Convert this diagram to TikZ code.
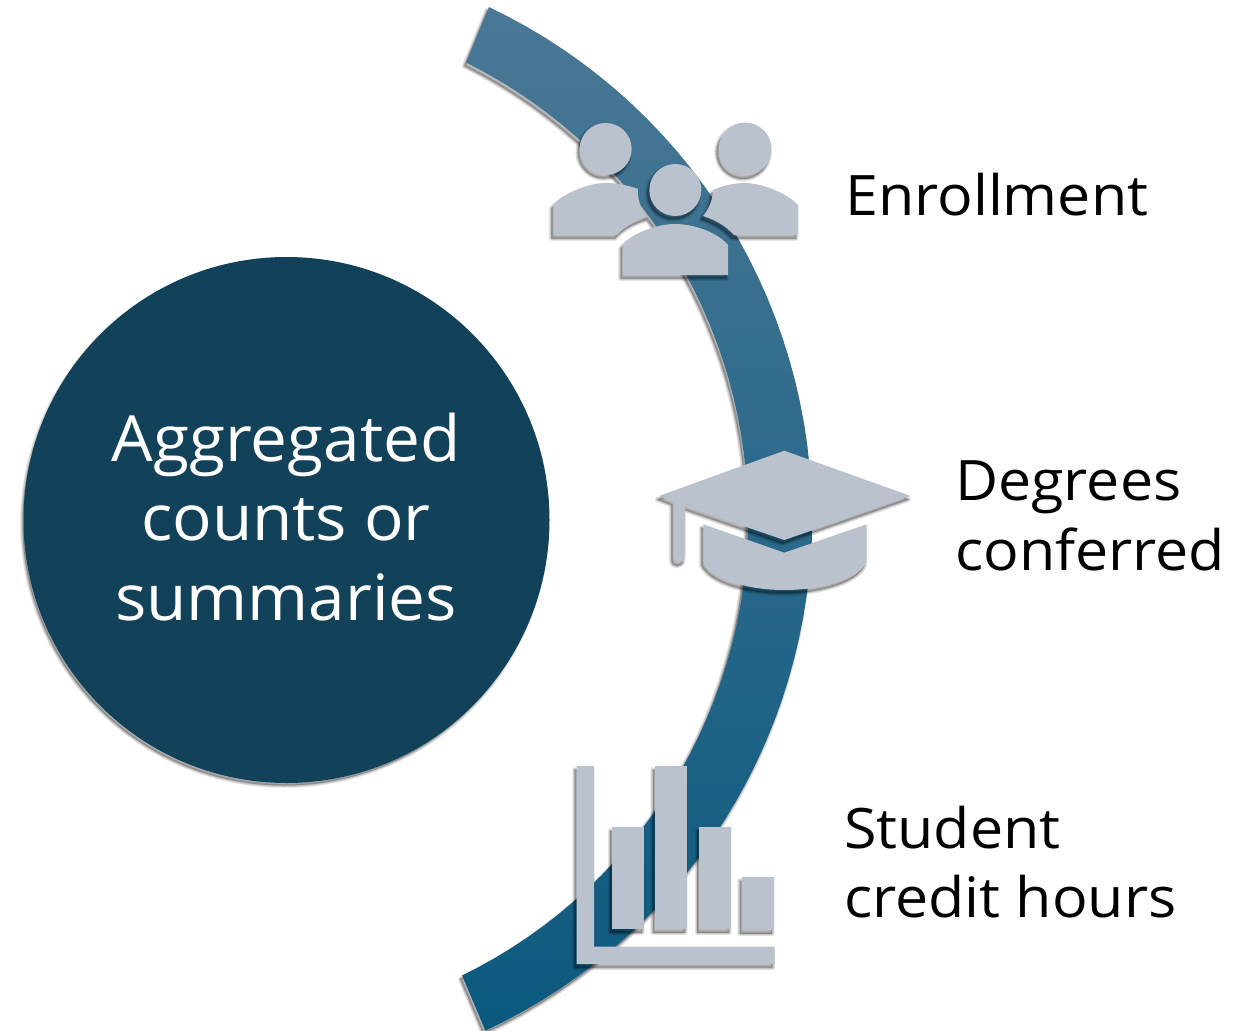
\documentclass[tikz,border=0pt]{standalone}
\usepackage{fontspec}
\setmainfont{Open Sans}
\newfontfamily\bigface[FakeStretch=1.03]{Open Sans}
\newfontfamily\sideface[FakeStretch=1.06]{Open Sans}
\definecolor{iconc}{HTML}{BAC3CD}
\definecolor{discc}{HTML}{12425A}
\definecolor{arctop}{HTML}{4A7896}
\definecolor{arcmid}{HTML}{186288}
\definecolor{arcbot}{HTML}{0B597E}
\newcommand{\softshadow}[1]{%
  \foreach \w in {5,4,3,2,1}{%
    \fill[black,opacity=0.06,xshift=-2bp,yshift=-3.5bp,draw=black,line width=\w bp,line join=round] #1;}%
}
\tikzset{
  icon/.style={fill=iconc,draw=none},
  biglabel/.style={text=white,align=center,font=\bigface\fontsize{64}{79.5}\selectfont,inner sep=0pt},
  sidelabel/.style={text=black,align=left,anchor=west,font=\sideface\fontsize{56}{70}\selectfont,inner sep=0pt}
}
\begin{document}
\begin{tikzpicture}[x=1bp,y=-1bp]
\useasboundingbox (0,0) rectangle (1242,1031);
\fill[white] (0,0) rectangle (1242,1031);
% arc
\def\arcpath{(489,7) -- plot[domain=-64.65:65,samples=60] ({246.3+565.7*cos(\x)},{518+565.7*sin(\x)}) -- plot[domain=64:-63.5,samples=60] ({239+509*cos(\x)},{518+509*sin(\x)}) -- cycle}
\softshadow{\arcpath}
\shade[top color=arctop,middle color=arcmid,bottom color=arcbot] \arcpath;
% disc
\softshadow{(286.5,520) circle[radius=262]}
\fill[discc] (286.5,520) circle[radius=263];
% people
\def\pa{(553.3,235) -- (553.3,205) .. controls (565,192) and (590,183) .. (605.7,183) .. controls (618,183) and (630,186) .. (638,189) .. controls (637,199) and (641,209) .. (647,217) .. controls (634,221) and (624,227) .. (617,235) -- cycle}
\def\pb{(798,235) -- (798,205) .. controls (786,192) and (760,183) .. (745,183) .. controls (733,183) and (722,186) .. (713,190) .. controls (713,200) and (708,210) .. (703,216) .. controls (716,220) and (727,227) .. (734,235) -- cycle}
\def\pc{(622.7,275) -- (622.7,245) .. controls (634,232) and (658,224) .. (675.3,224) .. controls (693,224) and (717,232) .. (728,245) -- (728,275) -- cycle}
\softshadow{(605.7,149) circle[radius=26]}\fill[icon] (605.7,149) circle[radius=26];
\softshadow{(745,149) circle[radius=26.5]}\fill[icon] (745,149) circle[radius=26.5];
\softshadow{\pa}\fill[icon] \pa;
\softshadow{\pb}\fill[icon] \pb;
\softshadow{(675.3,190) circle[radius=26]}\fill[icon] (675.3,190) circle[radius=26];
\softshadow{\pc}\fill[icon] \pc;
% cap
\def\ca{(784.3,450.7) -- (910.7,496) -- (784.3,540) -- (685,506) -- (685,556.7) .. controls (685,564.5) and (673.3,564.5) .. (673.3,556.7) -- (673.3,501.7) -- (659,496) -- cycle}
\def\cb{(703.3,524.3) -- (784.3,552.7) -- (866.7,524.3) -- (866.7,561.7) .. controls (860,578) and (825,590) .. (784.3,590) .. controls (745,590) and (710,578) .. (703.3,561.7) -- cycle}
\softshadow{\ca}\fill[icon] \ca;
\softshadow{\cb}\fill[icon] \cb;
% chart
\def\ax{(576.7,766) -- (594,766) -- (594,946.7) -- (774.7,946.7) -- (774.7,964) -- (576.7,964) -- cycle}
\def\ba{(612,827) rectangle (644,929)}
\def\bb{(654.7,766) rectangle (687.3,929)}
\def\bc{(699,827) rectangle (731,929)}
\def\bd{(741.7,877) rectangle (774,930)}
\softshadow{\ax}\fill[icon] \ax;
\softshadow{\ba}\fill[icon] \ba;
\softshadow{\bb}\fill[icon] \bb;
\softshadow{\bc}\fill[icon] \bc;
\softshadow{\bd}\fill[icon] \bd;
% text
\node[biglabel] (main) at (286,517) {Aggregated\\counts or\\summaries};
\node[sidelabel] (enr) at (845,195) {Enrollment};
\node[sidelabel] (deg) at (955,516) {Degrees\\conferred};
\node[sidelabel] (sch) at (844,862) {Student\\credit hours};
\end{tikzpicture}
\end{document}
